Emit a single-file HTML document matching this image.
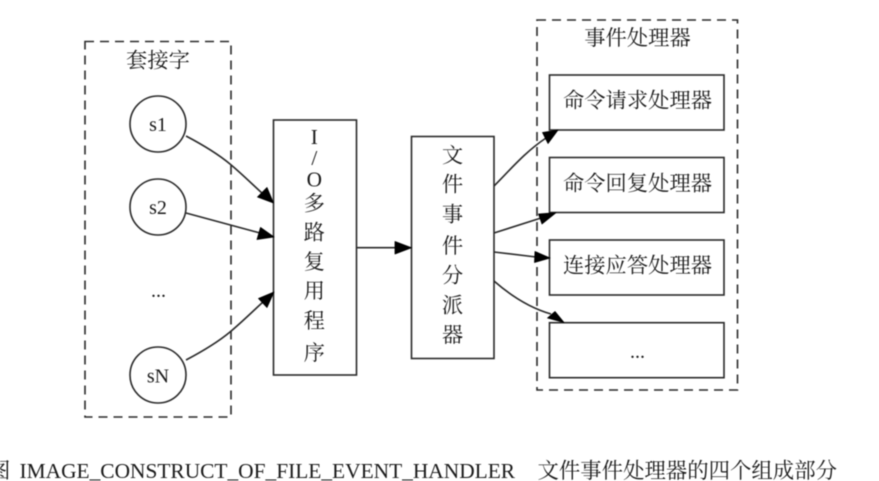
<!DOCTYPE html>
<html><head><meta charset="utf-8"><style>
html,body{margin:0;padding:0;background:#fff;width:879px;height:481px;overflow:hidden}
svg{display:block;filter:blur(.45px)}
text{font-family:"Liberation Serif","Noto Serif CJK SC",serif;fill:#1a1a1a;font-size:21.3px;text-anchor:middle}
.l{font-size:20px}
.c{font-size:21.4px;text-anchor:start}
</style></head><body>
<svg width="879" height="481" viewBox="0 0 879 481">
<g fill="none" stroke="#2a2a2a" stroke-width="1.6">
<rect x="85" y="41.5" width="146" height="375.5" stroke-dasharray="9,6"/>
<rect x="537" y="20" width="200.5" height="370" stroke-dasharray="9,6"/>
<circle cx="158" cy="124" r="28"/>
<circle cx="158" cy="207" r="28"/>
<circle cx="158" cy="375" r="28"/>
<rect x="273.5" y="120" width="83" height="255"/>
<rect x="411.5" y="136.5" width="82.5" height="222"/>
<rect x="549.5" y="75" width="174.5" height="55"/>
<rect x="549.5" y="157.5" width="174.5" height="55"/>
<rect x="549.5" y="240" width="174.5" height="55"/>
<rect x="549.5" y="322.7" width="174.5" height="55"/>
<path d="M186 136C205 146 218 154 230 164S252 184 263 194"/>
<path d="M186 213L260 233"/>
<path d="M186 360C205 350 218 342 230 332S252 312 263 302"/>
<path d="M357 247.7H397"/>
<path d="M494 186C510 170 525 152 546 138"/>
<path d="M494 233L541 218"/>
<path d="M494 252L536 257"/>
<path d="M494 281C510 295 530 308 551 314"/>
</g>
<g fill="#000" stroke="#000" stroke-width=".8" stroke-linejoin="round">
<polygon points="273.5,203 267,187.5 257.5,197"/>
<polygon points="274,237 260.5,227.5 257,239.5"/>
<polygon points="274,292 258.5,298.5 267,307.5"/>
<polygon points="411.5,247.7 395,241.5 395,254"/>
<polygon points="558,130 542.5,132.5 548,143.5"/>
<polygon points="556,212.7 538.5,214 542,224"/>
<polygon points="550,258 535,251.5 534.5,262.5"/>
<polygon points="564,322.5 547.5,318 555,311.5"/>
</g>
<text x="158" y="67.5">套接字</text>
<text x="637.5" y="45">事件处理器</text>
<text class="l" x="158" y="131">s1</text>
<text class="l" x="158" y="214">s2</text>
<text class="l" x="158.5" y="297">...</text>
<text class="l" x="158" y="382.5">sN</text>
<text x="314.3" y="144">I</text>
<text x="314.3" y="165">/</text>
<text x="314.3" y="186.5">O</text>
<text x="314.3" y="210.5">多</text>
<text x="314.3" y="239.5">路</text>
<text x="314.3" y="269">复</text>
<text x="314.3" y="298">用</text>
<text x="314.3" y="328">程</text>
<text x="314.3" y="360">序</text>
<text x="452.5" y="162.5">文</text>
<text x="452.5" y="191.5">件</text>
<text x="452.5" y="221.5">事</text>
<text x="452.5" y="253">件</text>
<text x="452.5" y="282.5">分</text>
<text x="452.5" y="312.5">派</text>
<text x="452.5" y="342">器</text>
<text x="637.5" y="107.5">命令请求处理器</text>
<text x="637.5" y="190.5">命令回复处理器</text>
<text x="637.5" y="272.5">连接应答处理器</text>
<text class="l" x="637.5" y="358">...</text>
<text class="c" x="-11" y="478">图</text>
<text class="c" x="19.5" y="478">IMAGE_CONSTRUCT_OF_FILE_EVENT_HANDLER</text>
<text class="c" x="537.5" y="478">文件事件处理器的四个组成部分</text>
</svg>
</body></html>
